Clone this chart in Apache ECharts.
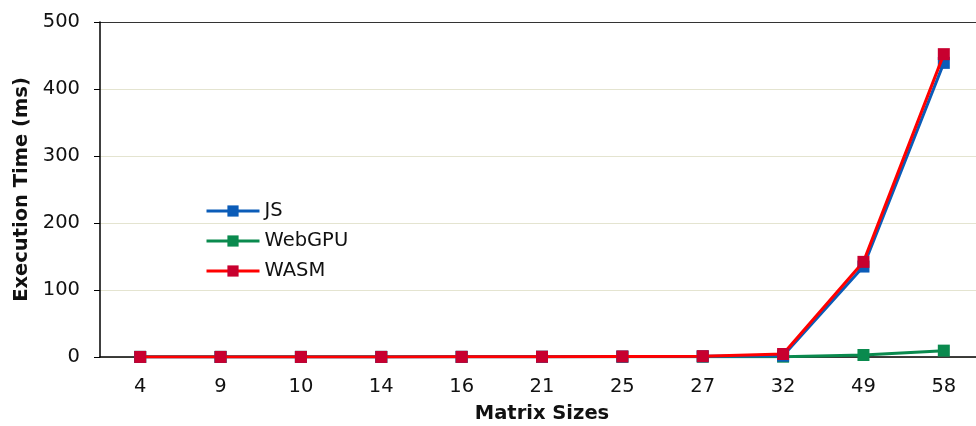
<!DOCTYPE html>
<html><head><meta charset="utf-8">
<script src="https://cdn.jsdelivr.net/npm/echarts@6/dist/echarts.min.js"></script>
<style>html,body{margin:0;padding:0;background:#fff}#c{width:976px;height:426px}</style>
</head><body><div id="c"></div>
<script>
const categories = ['4','9','10','14','16','21','25','27','32','49','58'];
const jsValues = [0.1,0.1,0.1,0.1,0.2,0.3,0.6,1.0,2.0,135,439];
const webgpuValues = [0.2,0.2,0.2,0.2,0.2,0.3,0.3,0.4,0.5,3,9.5];
const wasmValues = [0.1,0.1,0.1,0.1,0.2,0.4,0.8,1.2,4.5,142,452];
const yTicks = [0,100,200,300,400,500];

const font = 'DejaVu Sans';
const fs = 19.5;
const chart = echarts.init(document.getElementById('c'), null, {renderer:'canvas'});
function mk(name, data, line, marker, z){
  return {name, type:'line', data, symbol:'rect', symbolSize:12, z,
    lineStyle:{color:line, width:3}, itemStyle:{color:marker},
    emphasis:{disabled:true}};
}
chart.setOption({
  animation:false,
  grid:{left:100, top:22, width:884, height:335, containLabel:false, outerBoundsMode:'none'},
  legend:{left:200, top:196, orient:'vertical', itemGap:10, itemWidth:53, itemHeight:14,
    lineStyle:{width:3},
    textStyle:{fontFamily:font, fontSize:fs, color:'#111'},
    data:['JS','WebGPU','WASM']},
  xAxis:{type:'category', data:categories, boundaryGap:true,
    name:'Matrix Sizes', nameLocation:'middle', nameGap:47,
    nameTextStyle:{fontFamily:font, fontSize:fs, fontWeight:'bold', color:'#111'},
    axisLine:{lineStyle:{color:'#000', width:1.5}},
    axisTick:{alignWithLabel:true, length:6, lineStyle:{color:'#000'}},
    axisLabel:{fontFamily:font, fontSize:fs, color:'#111', margin:20}},
  yAxis:{type:'value', min:yTicks[0], max:yTicks[yTicks.length-1], interval:100,
    name:'Execution Time (ms)', nameLocation:'middle', nameGap:68,
    nameTextStyle:{fontFamily:font, fontSize:fs, fontWeight:'bold', color:'#111'},
    axisLine:{show:true, lineStyle:{color:'#000', width:1.5}},
    axisTick:{show:true, length:6, lineStyle:{color:'#000'}},
    axisLabel:{fontFamily:font, fontSize:fs, color:'#111', margin:20},
    splitLine:{show:true, lineStyle:{color:['#e4e4d0','#e4e4d0','#e4e4d0','#e4e4d0','#e4e4d0','#333'], width:1.2}}},
  series:[
    mk('JS', jsValues, '#0b5cb8', '#0b5cb8', 2),
    mk('WebGPU', webgpuValues, '#0a8a4e', '#0a8a4e', 1),
    mk('WASM', wasmValues, '#ff0000', '#c8002f', 3)
  ]
});
</script></body></html>
